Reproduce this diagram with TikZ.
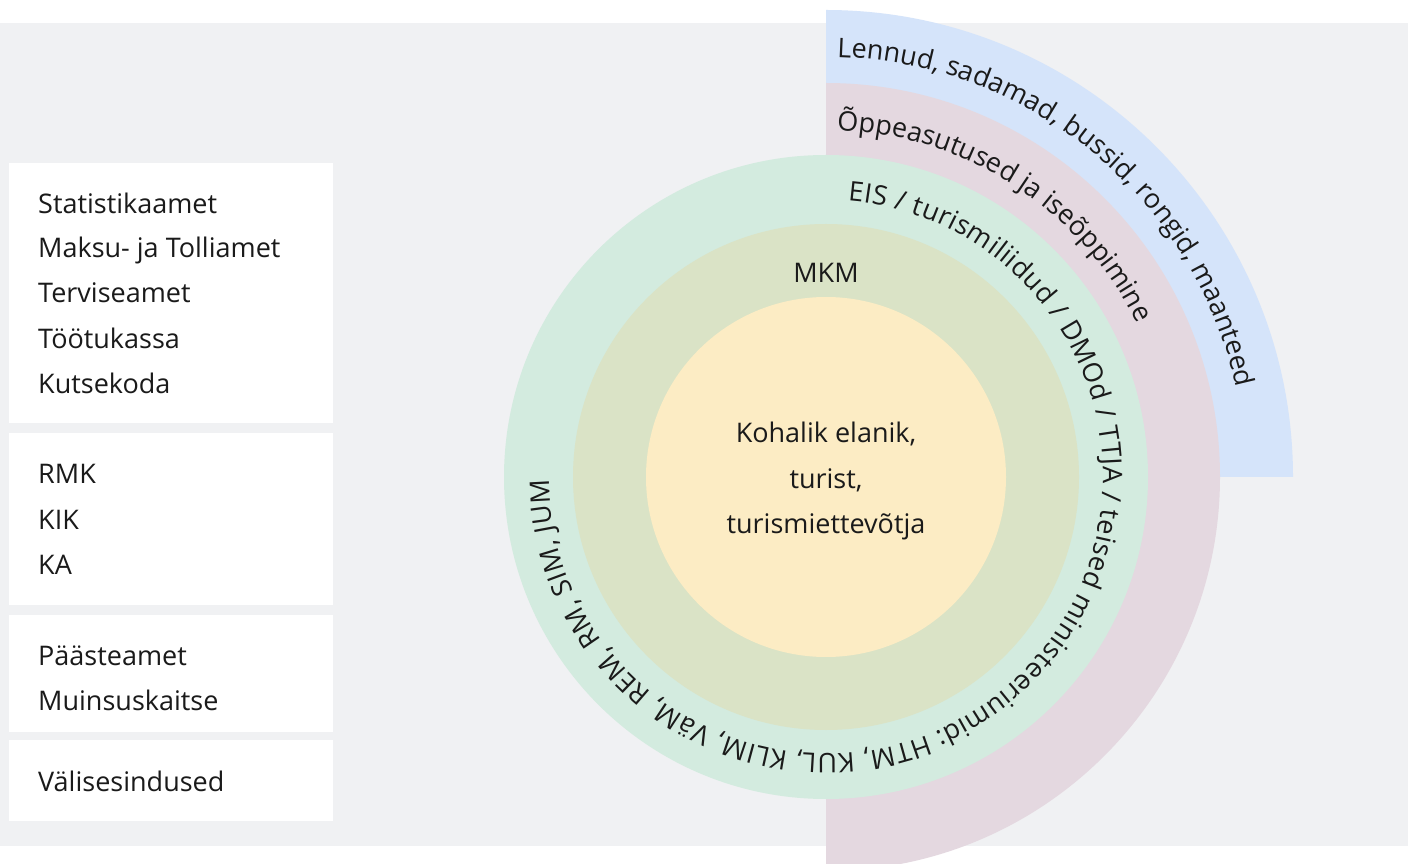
\documentclass[tikz,border=0pt]{standalone}
\usepackage{fontspec}
\setmainfont{Open Sans}
\usetikzlibrary{decorations.text}
\definecolor{bg}{HTML}{F0F1F3}
\definecolor{cblue}{HTML}{D5E4FA}
\definecolor{cpink}{HTML}{E4D8E0}
\definecolor{cgreen}{HTML}{D3EBDF}
\definecolor{colive}{HTML}{DAE3C6}
\definecolor{cyellow}{HTML}{FCECC4}
\definecolor{ink}{HTML}{1A1A1A}
\newcommand{\lblfont}{\fontsize{27}{30}\selectfont}
\tikzset{
  lbl/.style={inner sep=0pt, font=\lblfont, text=ink},
  listitem/.style={lbl, anchor=base west},
  centreitem/.style={lbl, anchor=base},
  panel/.style={fill=white},
  ringtext/.style={decorate, decoration={text along path, text align=fit to path, text={|\lblfont\color{ink}|#1}}}
}
\begin{document}
\begin{tikzpicture}[x=1pt,y=1pt]
\clip (0,0) rectangle (1408,863);
\fill[white] (0,0) rectangle (1408,863);
\fill[bg] (0,17) rectangle (1408,840);

% left panels
\fill[panel] (9,440) rectangle (333,700);
\fill[panel] (9,258) rectangle (333,430);
\fill[panel] (9,131) rectangle (333,248);
\fill[panel] (9,42) rectangle (333,123);

\node[listitem] (t1) at (38,649) {Statistikaamet};
\node[listitem] (t2) at (38,605) {Maksu- ja Tolliamet};
\node[listitem] (t3) at (38,560) {Terviseamet};
\node[listitem] (t4) at (38,514) {Töötukassa};
\node[listitem] (t5) at (38,469) {Kutsekoda};
\node[listitem] (t6) at (38,379) {RMK};
\node[listitem] (t7) at (38,333) {KIK};
\node[listitem] (t8) at (38,289) {KA};
\node[listitem] (t9) at (38,198) {Päästeamet};
\node[listitem] (t10) at (38,153) {Muinsuskaitse};
\node[listitem] (t11) at (38,72) {Välisesindused};

% rings
\coordinate (O) at (826,386);
\begin{scope}[shift={(O)}]
\fill[cblue] (0,0) -- (0:467pt) arc[start angle=0,end angle=90,radius=467pt] -- cycle;
\fill[cpink] (0,0) -- (-90:394pt) arc[start angle=-90,end angle=90,radius=394pt] -- cycle;
\fill[cgreen] (0,0) circle[radius=322pt];
\fill[colive] (0,0) circle[radius=253pt];
\fill[cyellow] (0,0) circle[radius=180pt];

\path[ringtext={Lennud, sadamad, bussid, rongid, maanteed}]
  (88.5:420pt) arc[start angle=88.5, end angle=12.5, radius=420pt];
\path[ringtext={Õppeasutused ja iseõppimine}]
  (88.2:347pt) arc[start angle=88.2, end angle=27.4, radius=347pt];
\path[ringtext={EIS / turismiliidud / DMOd / TTJA / teised ministeeriumid: HTM, KUL, KLIM, VäM, REM, RM, SIM, JUM}]
  (85.5:277pt) arc[start angle=85.5, end angle=-179.4, radius=277pt];
\end{scope}

\node[centreitem] (mkm) at (826,580) {MKM};
\node[centreitem] (c1) at (826,420) {Kohalik elanik,};
\node[centreitem] (c2) at (826,374) {turist,};
\node[centreitem] (c3) at (826,330) {turismiettevõtja};
\end{tikzpicture}
\end{document}
